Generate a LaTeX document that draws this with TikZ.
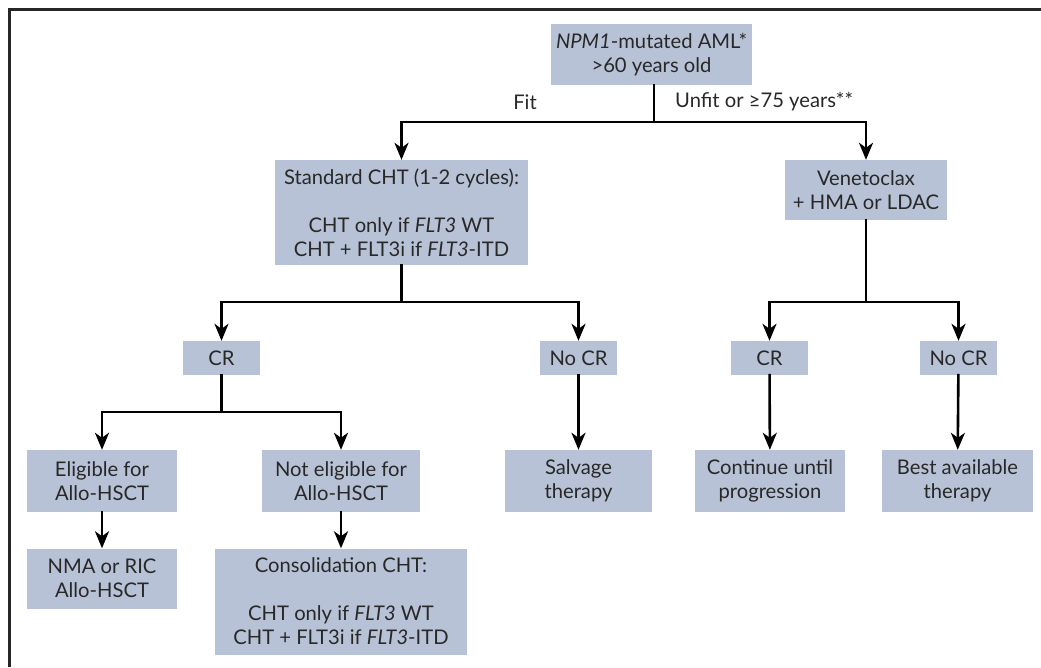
\documentclass[tikz,border=0pt]{standalone}
\usepackage{fontspec}
\setmainfont{Lato}
\usetikzlibrary{arrows.meta}

\definecolor{boxblue}{RGB}{184,194,214}
\definecolor{txtgray}{RGB}{40,40,40}

\tikzset{
  stepbox/.style={fill=boxblue, text=txtgray, inner sep=0pt, align=center,
    font=\fontsize{20.2}{24}\selectfont},
  link/.style={line width=2.6pt, line cap=rect},
  linkarrow/.style={link, -{Stealth[length=17pt, width=14pt, inset=5pt]}},
  lbl/.style={text=txtgray, inner sep=0pt, font=\fontsize{20.2}{24}\selectfont}
}

\begin{document}
\begin{tikzpicture}[x=1pt, y=-1pt]
    \useasboundingbox (0,0) rectangle (1041,667);
    \draw[line width=3pt, black!85] (1041,9.5) -- (9.5,9.5) -- (9.5,667);

    \node[stepbox, minimum width=201pt, minimum height=61pt] (npm) at (651.5,54.5) {\textit{NPM1}-mutated AML*\\>60 years old};
    \node[stepbox, minimum width=253pt, minimum height=105pt] (std) at (401.5,212.5) {Standard CHT (1-2 cycles):\\[24pt]CHT only if \textit{FLT3} WT\\CHT + FLT3i if \textit{FLT3}-ITD};
    \node[stepbox, minimum width=162pt, minimum height=60pt] (ven) at (866,190) {Venetoclax\\+ HMA or LDAC};

    \node[stepbox, minimum width=77pt, minimum height=34pt] (crL) at (221.5,358) {CR};
    \node[stepbox, minimum width=77pt, minimum height=34pt] (nocrL) at (578.5,358) {No CR};
    \node[stepbox, minimum width=77pt, minimum height=34pt] (crR) at (769.5,358) {CR};
    \node[stepbox, minimum width=77pt, minimum height=34pt] (nocrR) at (958.5,358) {No CR};

    \node[stepbox, minimum width=150pt, minimum height=62pt] (elig) at (102,481) {Eligible for\\Allo-HSCT};
    \node[stepbox, minimum width=158pt, minimum height=62pt] (notel) at (341,481) {Not eligible for\\Allo-HSCT};
    \node[stepbox, minimum width=147pt, minimum height=62pt] (salv) at (578.5,481) {Salvage\\therapy};
    \node[stepbox, minimum width=150pt, minimum height=62pt] (cont) at (770,481) {Continue until\\progression};
    \node[stepbox, minimum width=151pt, minimum height=62pt] (best) at (957.5,481) {Best available\\therapy};

    \node[stepbox, minimum width=150pt, minimum height=60pt] (nma) at (102,578.5) {NMA or RIC\\Allo-HSCT};
    \node[stepbox, minimum width=252pt, minimum height=106pt] (cons) at (341,601.5) {Consolidation CHT:\\[24pt]CHT only if \textit{FLT3} WT\\CHT + FLT3i if \textit{FLT3}-ITD};

    \coordinate (j0) at (654,122);
    \coordinate (j1) at (401.5,302);
    \coordinate (j2) at (866,302);
    \coordinate (j3) at (221.5,412);

    \node[lbl, anchor=east] (fit) at (537,102) {Fit};
    \node[lbl, anchor=west] (unfit) at (675,102) {Unfit or ≥75 years**};

    \draw[link] (npm.south -| j0) -- (j0);
    \draw[linkarrow] (j0) -| (std.north);
    \draw[linkarrow] (j0) -| (ven.north);

    \draw[link] (std.south) -- (j1);
    \draw[linkarrow] (j1) -| (crL.north);
    \draw[linkarrow] (j1) -| (nocrL.north);

    \draw[link] (ven.south) -- (j2);
    \draw[linkarrow] (j2) -| (crR.north);
    \draw[linkarrow] (j2) -| (nocrR.north);

    \draw[link] (crL.south) -- (j3);
    \draw[linkarrow] (j3) -| (elig.north);
    \draw[linkarrow] (j3) -| (notel.north);

    \draw[linkarrow] (nocrL) -- (salv);
    \draw[linkarrow] (crR) -- (cont);
    \draw[linkarrow] (nocrR) -- (best);
    \draw[linkarrow] (elig) -- (nma);
    \draw[linkarrow] (notel) -- (cons);
  \end{tikzpicture}
\end{document}
